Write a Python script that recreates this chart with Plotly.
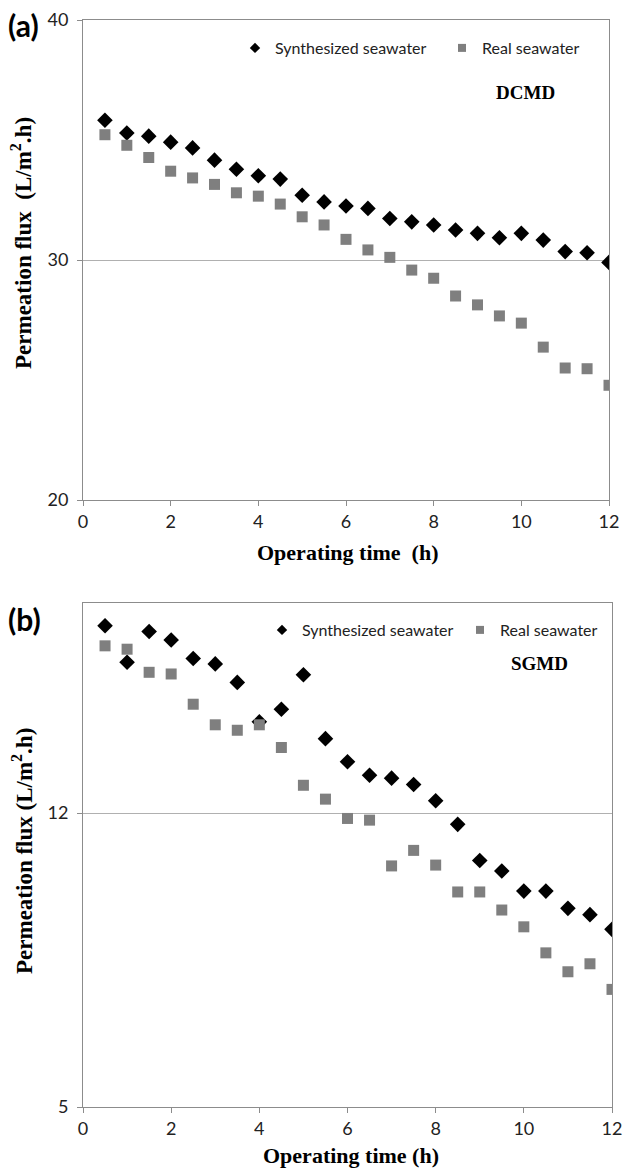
import plotly.graph_objects as go

time_h = [0.5, 1, 1.5, 2, 2.5, 3, 3.5, 4, 4.5, 5, 5.5, 6, 6.5, 7, 7.5, 8, 8.5, 9, 9.5, 10, 10.5, 11, 11.5, 12]

dcmd_synth = [35.82, 35.29, 35.16, 34.91, 34.67, 34.16, 33.78, 33.51, 33.37, 32.70, 32.42, 32.25,
              32.15, 31.73, 31.59, 31.46, 31.25, 31.11, 30.93, 31.11, 30.83, 30.35, 30.30, 29.90]
dcmd_real = [35.22, 34.78, 34.27, 33.70, 33.42, 33.15, 32.80, 32.66, 32.33, 31.80, 31.46, 30.86,
             30.42, 30.11, 29.58, 29.24, 28.50, 28.13, 27.67, 27.37, 26.37, 25.50, 25.47, 24.78]

sgmd_synth = [16.46, 15.59, 16.32, 16.12, 15.68, 15.55, 15.11, 14.17, 14.47, 15.29, 13.77, 13.22,
              12.90, 12.83, 12.68, 12.29, 11.73, 10.87, 10.62, 10.14, 10.14, 9.73, 9.58, 9.23]
sgmd_real = [15.98, 15.90, 15.35, 15.31, 14.59, 14.10, 13.97, 14.10, 13.56, 12.66, 12.33, 11.87,
             11.83, 10.74, 11.11, 10.76, 10.12, 10.12, 9.69, 9.29, 8.67, 8.22, 8.41, 7.80]

x_ticks = [0, 2, 4, 6, 8, 10, 12]
dcmd_y_ticks = [20, 30, 40]
sgmd_y_ticks = [5, 12]
series_names = ["Synthesized seawater", "Real seawater"]

W, H = 624, 1169
L, R, T, B = 83, 12, 20, 62
pw = W - L - R
ph = H - T - B


def py(pix):
    return (H - B - pix) / ph


def pxx(pix):
    return (pix - L) / pw


SANS = "Lato, 'Open Sans', sans-serif"
SERIF = "'Liberation Serif', 'Times New Roman', serif"
GREY = "#7f7f7f"

fig = go.Figure()

# data traces
fig.add_trace(go.Scatter(x=time_h, y=dcmd_synth, mode="markers", showlegend=False, xaxis="x", yaxis="y",
                         marker=dict(symbol="diamond", size=12, color="black")))
fig.add_trace(go.Scatter(x=time_h, y=dcmd_real, mode="markers", showlegend=False, xaxis="x", yaxis="y",
                         marker=dict(symbol="square", size=11, color=GREY)))
fig.add_trace(go.Scatter(x=time_h, y=sgmd_synth, mode="markers", showlegend=False, xaxis="x2", yaxis="y2",
                         marker=dict(symbol="diamond", size=12, color="black")))
fig.add_trace(go.Scatter(x=time_h, y=sgmd_real, mode="markers", showlegend=False, xaxis="x2", yaxis="y2",
                         marker=dict(symbol="square", size=11, color=GREY)))

# legend entries (one small legend per entry, placed like the reference)
legend_specs = [
    ("legend", "x", "y", 0, "diamond", "black", 235, 48),
    ("legend2", "x", "y", 1, "square", GREY, 442, 48),
    ("legend3", "x2", "y2", 0, "diamond", "black", 262, 630),
    ("legend4", "x2", "y2", 1, "square", GREY, 460, 630),
]
legend_layouts = {}
for lg, xa, ya, idx, sym, col, lx, ly in legend_specs:
    fig.add_trace(go.Scatter(x=[None], y=[None], mode="markers", name=series_names[idx], legend=lg,
                             xaxis=xa, yaxis=ya, marker=dict(symbol=sym, size=8, color=col)))
    legend_layouts[lg] = dict(orientation="h", x=pxx(lx), y=py(ly), xanchor="left", yanchor="middle",
                              font=dict(family=SANS, size=16, color="#222"), bgcolor="rgba(0,0,0,0)",
                              itemwidth=30)

axis_common = dict(showline=True, linecolor="#8c8c8c", linewidth=1, mirror=True,
                   ticks="outside", ticklen=5, tickcolor="#8c8c8c",
                   tickfont=dict(family=SANS, size=18, color="#222"), zeroline=False)

fig.update_layout(
    width=W, height=H,
    margin=dict(l=L, r=R, t=T, b=B, autoexpand=False),
    plot_bgcolor="white", paper_bgcolor="white",
    xaxis=dict(domain=[0, (609 - L) / pw], anchor="y", range=[0, 12], tickvals=x_ticks, showgrid=False,
               ticklabelstandoff=0, **axis_common),
    yaxis=dict(domain=[py(500), 1.0], anchor="x", range=[20, 40], tickvals=dcmd_y_ticks,
               showgrid=True, gridcolor="#b0b0b0", ticklabelstandoff=5, **axis_common),
    xaxis2=dict(domain=[0, 1], anchor="y2", range=[0, 12], tickvals=x_ticks, showgrid=False,
                ticklabelstandoff=0, **axis_common),
    yaxis2=dict(domain=[0, py(603)], anchor="x2", range=[5, 17], tickvals=sgmd_y_ticks,
                showgrid=True, gridcolor="#b0b0b0", ticklabelstandoff=5, **axis_common),
    **legend_layouts,
)

ann = []
ann.append(dict(text="<b>DCMD</b>", x=10.1, y=37.0, xref="x", yref="y", showarrow=False,
                font=dict(family=SERIF, size=19, color="black")))
ann.append(dict(text="<b>SGMD</b>", x=10.35, y=15.55, xref="x2", yref="y2", showarrow=False,
                font=dict(family=SERIF, size=19, color="black")))
ann.append(dict(text="<b>(a)</b>", x=pxx(6), y=py(25), xref="paper", yref="paper", xanchor="left", yanchor="middle",
                showarrow=False, font=dict(family=SANS, size=30, color="black")))
ann.append(dict(text="<b>(b)</b>", x=pxx(6), y=py(619), xref="paper", yref="paper", xanchor="left", yanchor="middle",
                showarrow=False, font=dict(family=SANS, size=30, color="black")))
# axis titles
ann.append(dict(text="<b>Permeation flux&nbsp;&nbsp;(L/m<sup>2</sup>.h)</b>", x=pxx(21), y=py(243), xref="paper",
                yref="paper", textangle=-90, showarrow=False, xanchor="center", yanchor="middle",
                font=dict(family=SERIF, size=23, color="black")))
ann.append(dict(text="<b>Permeation flux (L/m<sup>2</sup>.h)</b>", x=pxx(22), y=py(851), xref="paper",
                yref="paper", textangle=-90, showarrow=False, xanchor="center", yanchor="middle",
                font=dict(family=SERIF, size=23, color="black")))
ann.append(dict(text="<b>Operating time&nbsp;&nbsp;(h)</b>", x=pxx(347), y=py(552), xref="paper", yref="paper",
                showarrow=False, xanchor="center", yanchor="middle",
                font=dict(family=SERIF, size=22, color="black")))
ann.append(dict(text="<b>Operating time (h)</b>", x=pxx(351), y=py(1155), xref="paper", yref="paper",
                showarrow=False, xanchor="center", yanchor="middle",
                font=dict(family=SERIF, size=22, color="black")))
fig.update_layout(annotations=ann)

fig.write_html("out.html")
